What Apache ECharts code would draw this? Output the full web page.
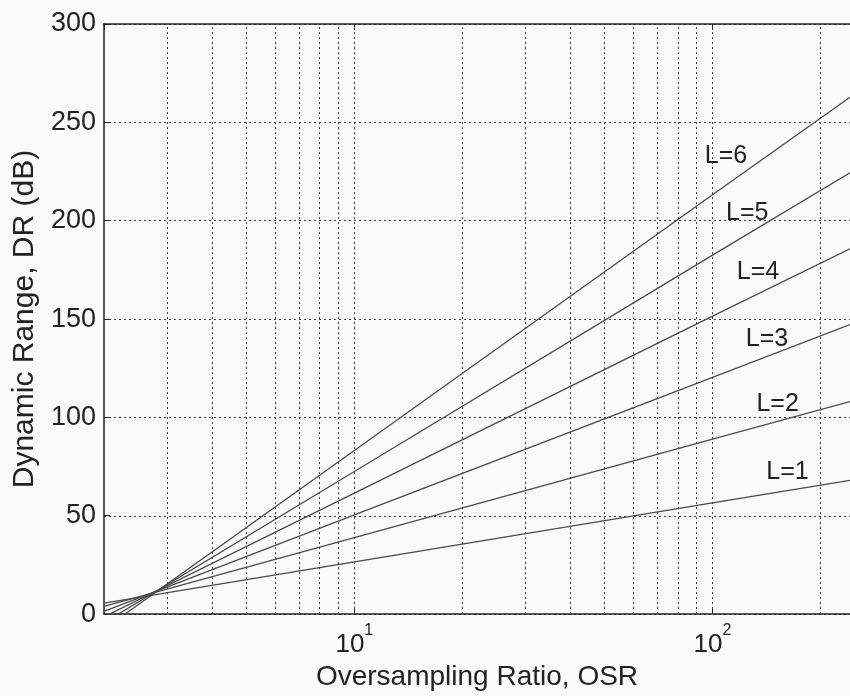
<!DOCTYPE html>
<html lang="en">
<head>
    <meta charset="utf-8">
    <title>Dynamic Range vs OSR</title>
    <script src="https://cdn.jsdelivr.net/npm/echarts@6/dist/echarts.min.js"></script>
    <style>
        html, body, #main { width: 100%; height: 100%; margin: 0; padding: 0; overflow: hidden; background: #fafafa; }
    </style>
</head>
<body>
<div id="main"></div>
<script type="text/javascript">
    // values (OSR on log axis, DR in dB)
    var osr = [2, 10, 100, 242];
    var drL1 = [5.6, 26.6, 56.6, 68.0];
    var drL2 = [3.9, 38.9, 88.9, 108.0];
    var drL3 = [1.4, 50.4, 120.4, 147.2];
    var drL4 = [-1.4, 61.5, 151.5, 185.7];
    var drL5 = [-4.4, 72.5, 182.5, 224.4];
    var drL6 = [-7.6, 83.2, 213.2, 262.8];
    var orderNames = ['L=1', 'L=2', 'L=3', 'L=4', 'L=5', 'L=6'];

    // where the "L=n" texts sit
    var labelOsr = [162, 152, 142, 134, 125, 109];
    var labelDb = [72, 107, 140, 174, 204, 233];

    // vertical grid lines of the log axis
    var gridX = [3, 4, 5, 6, 7, 8, 9, 10, 20, 30, 40, 50, 60, 70, 80, 90, 100, 200];

    var allDr = [drL1, drL2, drL3, drL4, drL5, drL6];
    var font = 'Liberation Sans, Arial, sans-serif';
    var lineColor = '#4a4a4a';
    var textColor = '#222';
    var gridStyle = { color: '#3a3a3a', width: 1, type: [2, 3] };

    function isPow10(v) {
        var e = Math.log10(v);
        return Math.abs(e - Math.round(e)) < 1e-6;
    }

    var series = [];
    for (var i = 0; i < allDr.length; i++) {
        var pts = [];
        for (var j = 0; j < osr.length; j++) {
            pts.push([osr[j], allDr[i][j]]);
        }
        series.push({
            name: orderNames[i],
            type: 'line',
            data: pts,
            symbol: 'none',
            clip: true,
            lineStyle: { color: lineColor, width: 1.3 },
            markPoint: {
                symbol: 'circle',
                symbolSize: 1,
                itemStyle: { color: 'rgba(0,0,0,0)' },
                label: {
                    show: true,
                    position: 'inside',
                    formatter: orderNames[i],
                    fontFamily: font,
                    fontSize: 25,
                    color: textColor
                },
                data: [{ coord: [labelOsr[i], labelDb[i]] }]
            }
        });
    }

    // dotted vertical grid
    series.push({
        type: 'line',
        data: [],
        silent: true,
        markLine: {
            silent: true,
            symbol: 'none',
            label: { show: false },
            lineStyle: gridStyle,
            data: gridX.map(function (v) { return { xAxis: v }; })
        }
    });

    var chart = echarts.init(document.getElementById('main'));
    chart.setOption({
        animation: false,
        backgroundColor: '#fafafa',
        grid: { left: 104, right: 0, top: 24, bottom: 76 },
        xAxis: [{
            type: 'log',
            logBase: 10,
            min: 2,
            max: 242,
            name: 'Oversampling Ratio, OSR',
            nameLocation: 'middle',
            nameGap: 44,
            nameTextStyle: { fontFamily: font, fontSize: 28, color: textColor },
            axisLine: { onZero: false, lineStyle: { color: '#222', width: 1.5 } },
            axisTick: { inside: true, length: 6, lineStyle: { color: '#222' } },
            splitLine: { show: false },
            axisLabel: {
                margin: 3,
                showMinLabel: false,
                showMaxLabel: false,
                formatter: function (v) {
                    if (!isPow10(v)) return '';
                    return '{b|10}{sup|' + Math.round(Math.log10(v)) + '}';
                },
                rich: {
                    b: { fontFamily: font, fontSize: 26, color: textColor, padding: [15, 0, 0, 0] },
                    sup: { fontFamily: font, fontSize: 16, color: textColor, padding: [0, 0, 15, 0] }
                }
            }
        }, {
            type: 'log',
            logBase: 10,
            min: 2,
            max: 242,
            position: 'top',
            axisLine: { onZero: false, lineStyle: { color: '#222', width: 1.5 } },
            axisTick: { inside: true, length: 6, lineStyle: { color: '#222' } },
            axisLabel: { show: false },
            splitLine: { show: false }
        }],
        yAxis: {
            type: 'value',
            min: 0,
            max: 300,
            interval: 50,
            name: 'Dynamic Range, DR (dB)',
            nameLocation: 'middle',
            nameGap: 60,
            nameTextStyle: { fontFamily: font, fontSize: 30, color: textColor },
            axisLine: { show: true, lineStyle: { color: '#222', width: 1.5 } },
            axisTick: { show: true, inside: true, length: 6, lineStyle: { color: '#222' } },
            axisLabel: { margin: 8, fontFamily: font, fontSize: 27, color: textColor },
            splitLine: { show: true, lineStyle: gridStyle }
        },
        series: series
    });
</script>
</body>
</html>
